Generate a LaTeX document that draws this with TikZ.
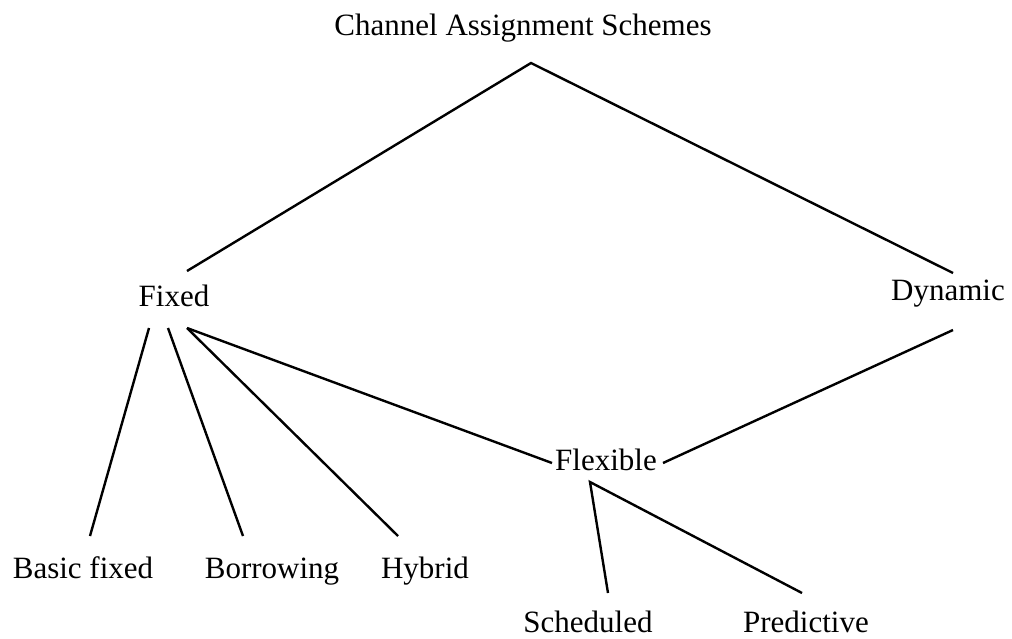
\documentclass[tikz,border=0pt]{standalone}
\usepackage{fontspec}
\setmainfont{Liberation Serif}
\usepackage{tikz}
\usetikzlibrary{calc}

\tikzset{
  lbl/.style={inner sep=0pt, anchor=base, font=\fontsize{15.5pt}{18pt}\selectfont},
  branch/.style={line width=1.2pt}
}

\begin{document}
\begin{tikzpicture}[x=0.5pt, y=-0.5pt]
    \useasboundingbox (0,0) rectangle (1012,638);
    \coordinate (p0) at (523, 35);
    \coordinate (p1) at (174, 306);
    \coordinate (p2) at (948, 300);
    \coordinate (p3) at (606, 470);
    \coordinate (p4) at (83, 578);
    \coordinate (p5) at (272, 578);
    \coordinate (p6) at (425, 578);
    \coordinate (p7) at (588, 632);
    \coordinate (p8) at (806, 632);
    \node[lbl] (schemes) at (p0) {Channel Assignment Schemes};
    \node[lbl] (fixed) at (p1) {Fixed};
    \node[lbl] (dynamic) at (p2) {Dynamic};
    \node[lbl] (flexible) at (p3) {Flexible};
    \node[lbl] (basic) at (p4) {Basic fixed};
    \node[lbl] (borrowing) at (p5) {Borrowing};
    \node[lbl] (hybrid) at (p6) {Hybrid};
    \node[lbl] (scheduled) at (p7) {Scheduled};
    \node[lbl] (predictive) at (p8) {Predictive};
    \draw[branch] ([shift={(13,-35)}]fixed.base) -- ([shift={(8,28)}]schemes.base)
        -- ([shift={(5,-27)}]dynamic.base);
    \draw[branch] ([shift={(-25,22)}]fixed.base) -- ([shift={(7,-42)}]basic.base);
    \draw[branch] ([shift={(-6,22)}]fixed.base) -- ([shift={(-29,-42)}]borrowing.base);
    \draw[branch] ([shift={(13,22)}]fixed.base) -- ([shift={(-27,-42)}]hybrid.base);
    \draw[branch] ([shift={(13,22)}]fixed.base) -- ([shift={(-54,-7)}]flexible.base);
    \draw[branch] ([shift={(5,30)}]dynamic.base) -- ([shift={(57,-7)}]flexible.base);
    \draw[branch] ([shift={(20,-39)}]scheduled.base) -- ([shift={(-16,12)}]flexible.base)
        -- ([shift={(-4,-39)}]predictive.base);
  \end{tikzpicture}
\end{document}
